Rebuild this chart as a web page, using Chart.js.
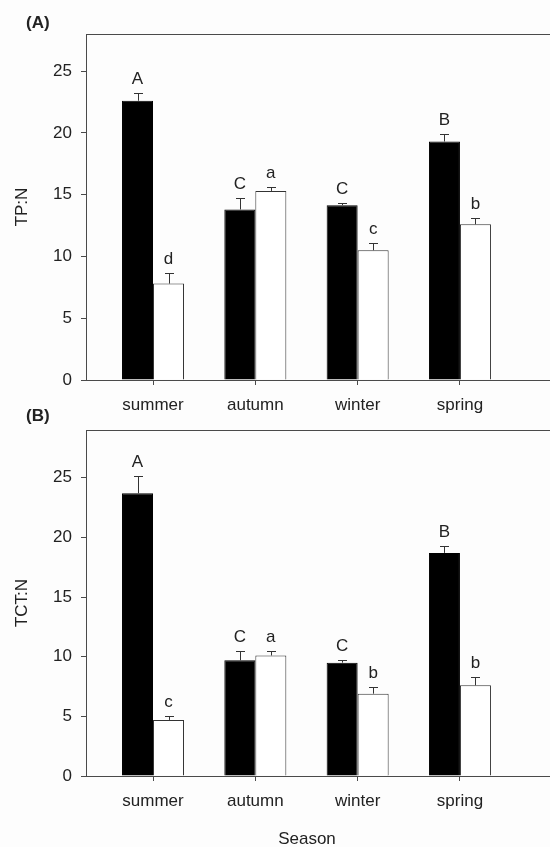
<!DOCTYPE html>
<html>
<head>
<meta charset="utf-8">
<script src="https://cdn.jsdelivr.net/npm/chart.js@4/dist/chart.umd.min.js"></script>
<style>
  html, body { margin: 0; padding: 0; background: #fdfdfd; overflow: hidden; }
  body { width: 550px; height: 847px; position: relative; font-family: "Liberation Sans", Arial, sans-serif; color: #222; }
  canvas { position: absolute; left: 0; }
  #chartA { top: 0; }
  #chartB { top: 396px; }
  .panel { position: absolute; left: 26px; font-weight: bold; font-size: 17px; line-height: 20px; }
  #season { position: absolute; left: 207px; width: 200px; top: 829px; text-align: center; font-size: 17px; line-height: 20px; }
</style>
</head>
<body>
<canvas id="chartA" width="550" height="420"></canvas>
<canvas id="chartB" width="550" height="451"></canvas>
<div class="panel" style="top:13px">(A)</div>
<div class="panel" style="top:406px">(B)</div>
<div id="season">Season</div>
<script>
'use strict';

const seasons = ['summer', 'autumn', 'winter', 'spring'];
const yTicks = [0, 5, 10, 15, 20, 25];

// (A) TP:N
const tpBlack = [22.6, 13.8, 14.15, 19.3];
const tpBlackErr = [0.6, 0.95, 0.15, 0.6];
const tpBlackLetters = ['A', 'C', 'C', 'B'];
const tpWhite = [7.8, 15.3, 10.5, 12.6];
const tpWhiteErr = [0.85, 0.35, 0.55, 0.55];
const tpWhiteLetters = ['d', 'a', 'c', 'b'];

// (B) TCT:N
const tctBlack = [23.7, 9.7, 9.5, 18.7];
const tctBlackErr = [1.45, 0.75, 0.2, 0.6];
const tctBlackLetters = ['A', 'C', 'C', 'B'];
const tctWhite = [4.7, 10.1, 6.9, 7.6];
const tctWhiteErr = [0.35, 0.35, 0.55, 0.7];
const tctWhiteLetters = ['c', 'a', 'b', 'b'];

const axisColor = '#4a4a4a';
const textColor = '#222';
const font = { family: '"Liberation Sans", Arial, sans-serif', size: 17 };

// error bars, significance letters and the top frame line
const extras = {
	id: 'extras',
	afterDatasetsDraw(chart) {
		const ctx = chart.ctx;
		const y = chart.scales.y;
		const area = chart.chartArea;
		ctx.save();
		ctx.strokeStyle = axisColor;
		ctx.lineWidth = 1;
		ctx.beginPath();
		ctx.moveTo(area.left, Math.round(area.top) + 0.5);
		ctx.lineTo(area.right, Math.round(area.top) + 0.5);
		ctx.stroke();

		chart.data.datasets.forEach((ds, i) => {
			const meta = chart.getDatasetMeta(i);
			meta.data.forEach((bar, j) => {
				const v = ds.data[j].y;
				const x = Math.round(bar.x) + 0.5;
				const base = y.getPixelForValue(v);
				const top = Math.round(y.getPixelForValue(v + ds.errors[j])) + 0.5;
				ctx.strokeStyle = '#333';
				ctx.beginPath();
				ctx.moveTo(x, base);
				ctx.lineTo(x, top);
				ctx.moveTo(x - 4.5, top);
				ctx.lineTo(x + 4.5, top);
				ctx.stroke();

				ctx.fillStyle = textColor;
				ctx.font = font.size + 'px ' + font.family;
				ctx.textAlign = 'center';
				ctx.textBaseline = 'alphabetic';
				ctx.fillText(ds.letters[j], bar.x, top - 10);
			});
		});
		ctx.restore();
	},
};

const makeChart = (id, title, black, blackErr, blackLetters, white, whiteErr, whiteLetters, yMax, xHeight) => {
	return new Chart(document.getElementById(id), {
		type: 'bar',
		data: {
			datasets: [
				{
					label: 'black',
					data: black.map((v, i) => ({ x: i + 1, y: v })),
					errors: blackErr,
					letters: blackLetters,
					backgroundColor: '#000',
					borderColor: '#000',
					borderWidth: 1,
				},
				{
					label: 'white',
					data: white.map((v, i) => ({ x: i + 1, y: v })),
					errors: whiteErr,
					letters: whiteLetters,
					backgroundColor: '#fff',
					borderColor: '#333',
					borderWidth: 1,
				},
			],
		},
		options: {
			responsive: false,
			animation: false,
			devicePixelRatio: 1,
			categoryPercentage: 0.606,
			barPercentage: 1,
			layout: { padding: { top: 34, left: 0, right: 0, bottom: 0 } },
			plugins: { legend: { display: false }, tooltip: { enabled: false } },
			scales: {
				x: {
					type: 'linear',
					min: 0.345,
					max: 4.88,
					offset: false,
					grid: { display: true, drawOnChartArea: false, drawTicks: true, tickLength: 5, color: axisColor, offset: false },
					border: { display: true, color: axisColor, width: 1 },
					ticks: {
						autoSkip: false,
						maxRotation: 0,
						padding: 10,
						color: textColor,
						font: font,
						callback: (v) => seasons[v - 1],
					},
					afterBuildTicks: (scale) => {
						scale.ticks = seasons.map((s, i) => ({ value: i + 1 }));
					},
					afterFit: (scale) => {
						scale.height = xHeight;
					},
				},
				y: {
					min: 0,
					max: yMax,
					grid: { display: true, drawOnChartArea: false, drawTicks: true, tickLength: 5, color: axisColor },
					border: { display: true, color: axisColor, width: 1 },
					ticks: { padding: 9, color: textColor, font: font },
					title: { display: true, text: title, color: textColor, font: font, padding: { top: 12, bottom: 0 } },
					afterBuildTicks: (scale) => {
						scale.ticks = yTicks.map((v) => ({ value: v }));
					},
					afterFit: (scale) => {
						scale.width = 86;
					},
				},
			},
		},
		plugins: [extras],
	});
};

window.addEventListener('DOMContentLoaded', () => {
	makeChart('chartA', 'TP:N', tpBlack, tpBlackErr, tpBlackLetters, tpWhite, tpWhiteErr, tpWhiteLetters, 28, 40);
	makeChart('chartB', 'TCT:N', tctBlack, tctBlackErr, tctBlackLetters, tctWhite, tctWhiteErr, tctWhiteLetters, 29, 71);
});
</script>
</body>
</html>
